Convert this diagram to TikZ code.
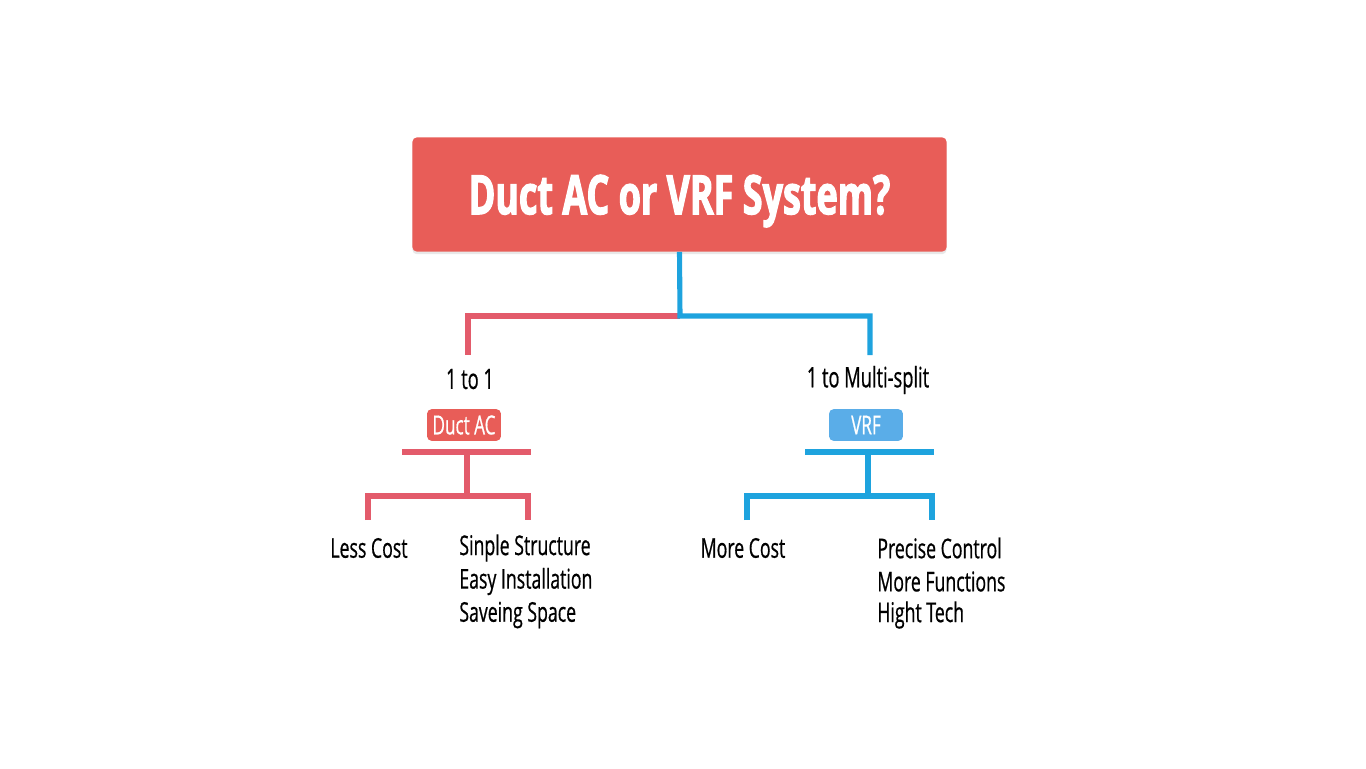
\documentclass[tikz,border=0pt]{standalone}
\usepackage{fontspec}
\setmainfont{Open Sans}
\newfontfamily\condfont[FakeStretch=0.65,FakeBold=0.6]{Open Sans}
\newfontfamily\headfont[FakeStretch=0.66,FakeBold=2]{Open Sans}
\usetikzlibrary{positioning,shadows}

\definecolor{titlered}{HTML}{E85D58}
\definecolor{linered}{HTML}{E35B6B}
\definecolor{lineblue}{HTML}{1EA3DE}
\definecolor{boxblue}{HTML}{5AADE8}

\tikzset{
  redline/.style={draw=linered,line width=2.9pt},
  blueline/.style={draw=lineblue,line width=2.9pt},
  tag/.style={rounded corners=2.5pt,text=white,minimum width=42pt,minimum height=18pt,
    inner sep=0pt,font=\condfont\fontsize{15}{17}\selectfont},
  label/.style={font=\condfont\fontsize{16}{18}\selectfont,inner sep=0pt},
  item/.style={font=\condfont\fontsize{15.5}{17}\selectfont,inner sep=0pt,anchor=west},
}

\begin{document}
\begin{tikzpicture}[x=0.02cm,y=-0.02cm]
\useasboundingbox (0,0) rectangle (1366,768);
% ================= title =================
\node[fill=titlered,rounded corners=2.5pt,minimum width=304pt,minimum height=65pt,
  text depth=0pt,drop shadow={opacity=0.18,shadow xshift=0pt,shadow yshift=-1.5pt},
  text=white,font=\headfont\bfseries\fontsize{31}{34}\selectfont] (title) at (679.5,194.5)
  {Duct AC or VRF System?};
\coordinate (split) at (680,316);
\coordinate (ducttop) at (468,355);
\coordinate (vrftop) at (870,355);
\draw[redline] (split) -| (ducttop);
\draw[blueline] (title.south) -- (split) -| (vrftop);
% ================= duct AC side =================
\node[label] (onetoone) at (470,379) {1 to 1};
\node[tag,fill=titlered] (duct) at (464,425) {Duct AC};
\coordinate (ductbarL) at (402,452);
\coordinate (ductbarR) at (531,452);
\coordinate (ductmid) at (467,452);
\coordinate (ductfork) at (467,496);
\coordinate (lesscost) at (368,520);
\coordinate (ductplus) at (528,520);
\draw[redline] (ductbarL) -- (ductbarR);
\draw[redline] (ductmid) -- (ductfork);
\draw[redline] (lesscost) |- (ductfork) -| (ductplus);
\node[label,font=\condfont\fontsize{15.5}{17}\selectfont] (less) at (369,548) {Less Cost};
\foreach \t [count=\i from 0] in {Sinple Structure,Easy Installation,Saveing Space}
  \node[item] (duct\i) at (459,{548+33.5*\i}) {\t};
% ================= VRF side =================
\node[label] (onetomulti) at (868,380) {1 to Multi-split};
\node[tag,fill=boxblue] (vrf) at (866,425) {VRF};
\coordinate (vrfbarL) at (805,452);
\coordinate (vrfbarR) at (934,452);
\coordinate (vrfmid) at (868,452);
\coordinate (vrffork) at (868,496);
\coordinate (morecost) at (747,520);
\coordinate (vrfplus) at (932,520);
\draw[blueline] (vrfbarL) -- (vrfbarR);
\draw[blueline] (vrfmid) -- (vrffork);
\draw[blueline] (morecost) |- (vrffork) -| (vrfplus);
\node[label,font=\condfont\fontsize{15.5}{17}\selectfont] (more) at (743,548) {More Cost};
\foreach \t [count=\i from 0] in {Precise Control,More Functions,Hight Tech}
  \node[item] (vrf\i) at (877,{548+33.5*\i}) {\t};
\end{tikzpicture}
\end{document}
